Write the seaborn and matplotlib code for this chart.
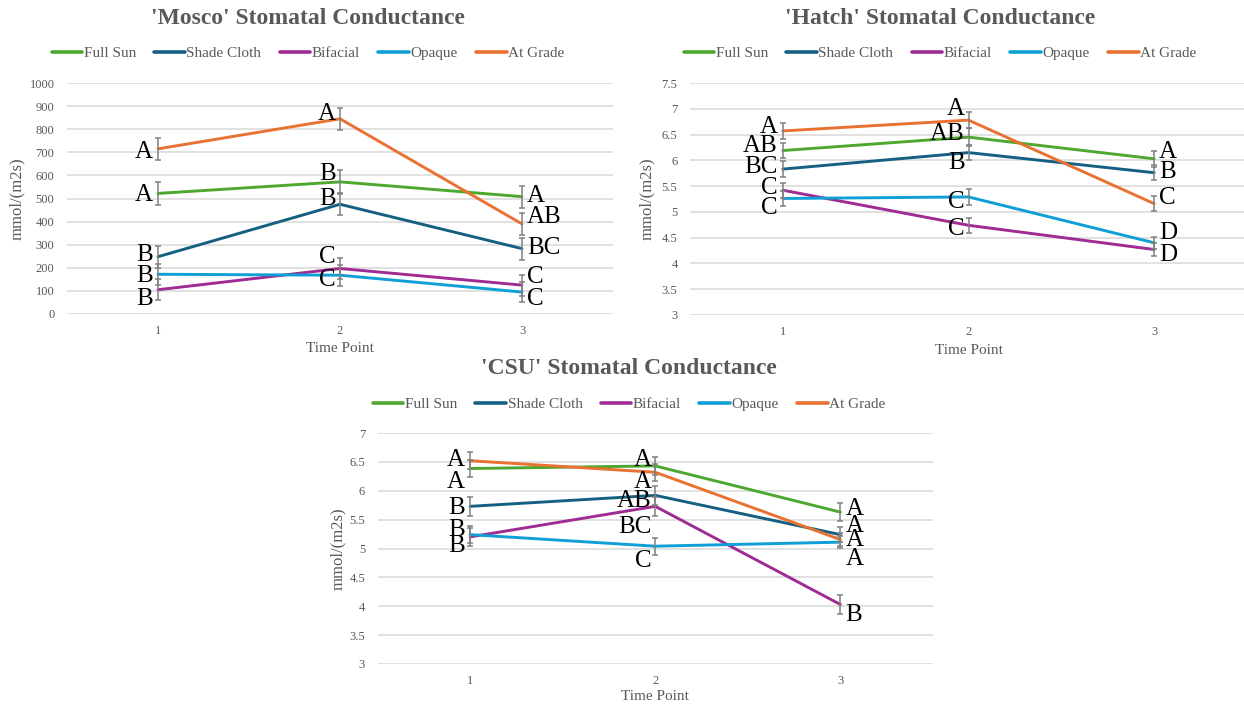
import numpy as np
import pandas as pd
import matplotlib
matplotlib.use("Agg")
import matplotlib.pyplot as plt
from matplotlib.lines import Line2D
import seaborn as sns

# ---------------- data ----------------
time_points = [1, 2, 3]
treatments = ["Full Sun", "Shade Cloth", "Bifacial", "Opaque", "At Grade"]

# 'Mosco'
mosco_full_sun = [522, 572, 508]
mosco_shade_cloth = [248, 475, 283]
mosco_bifacial = [105, 197, 125]
mosco_opaque = [172, 168, 95]
mosco_at_grade = [715, 845, 390]
mosco_err = {"Full Sun": [50, 50, 48], "Shade Cloth": [48, 45, 48],
             "Bifacial": [45, 45, 45], "Opaque": [45, 45, 45], "At Grade": [48, 47, 47]}
mosco_letters = {"Full Sun": ["A", "B", "A"], "Shade Cloth": ["B", "B", "BC"],
                 "Bifacial": ["B", "C", "C"], "Opaque": ["B", "C", "C"],
                 "At Grade": ["A", "A", "AB"]}

# 'Hatch'
hatch_full_sun = [6.19, 6.45, 6.03]
hatch_shade_cloth = [5.83, 6.15, 5.76]
hatch_bifacial = [5.42, 4.74, 4.27]
hatch_opaque = [5.26, 5.29, 4.40]
hatch_at_grade = [6.57, 6.78, 5.16]
hatch_err = {"Full Sun": [0.15, 0.17, 0.15], "Shade Cloth": [0.15, 0.15, 0.14],
             "Bifacial": [0.15, 0.15, 0.12], "Opaque": [0.15, 0.16, 0.12],
             "At Grade": [0.15, 0.15, 0.15]}
hatch_letters = {"Full Sun": ["AB", "AB", "A"], "Shade Cloth": ["BC", "B", "B"],
                 "Bifacial": ["C", "C", "D"], "Opaque": ["C", "C", "D"],
                 "At Grade": ["A", "A", "C"]}

# 'CSU'
csu_full_sun = [6.385, 6.43, 5.63]
csu_shade_cloth = [5.73, 5.92, 5.24]
csu_bifacial = [5.20, 5.73, 4.03]
csu_opaque = [5.24, 5.04, 5.11]
csu_at_grade = [6.52, 6.32, 5.155]
csu_err = {"Full Sun": [0.15, 0.16, 0.16], "Shade Cloth": [0.17, 0.17, 0.13],
           "Bifacial": [0.15, 0.16, 0.16], "Opaque": [0.15, 0.15, 0.1],
           "At Grade": [0.15, 0.15, 0.12]}
csu_letters = {"Full Sun": ["A", "A", "A"], "Shade Cloth": ["B", "AB", "A"],
               "Bifacial": ["B", "BC", "B"], "Opaque": ["B", "C", "A"],
               "At Grade": ["A", "A", "A"]}

# ---------------- style ----------------
palette = {"Full Sun": "#4EA72E", "Shade Cloth": "#156082", "Bifacial": "#A02B93",
           "Opaque": "#0F9ED5", "At Grade": "#E97132"}
draw_order = ["Full Sun", "Shade Cloth", "Bifacial", "Opaque", "At Grade"]

# letter vertical offsets (pixels, + = down) relative to each point
mosco_dy = {"Full Sun": [0, -10, -2], "Shade Cloth": [-4, -7, -2], "Bifacial": [7, -13, -10],
            "Opaque": [0, 3, 5], "At Grade": [1, -7, -9]}
hatch_dy = {"Full Sun": [-6, -5, -9], "Shade Cloth": [-4, 9, -3], "Bifacial": [-4, 2, 4],
            "Opaque": [8, 3, -12], "At Grade": [-6, -13, -7]}
csu_dy = {"Full Sun": [12, -8, -5], "Shade Cloth": [0, 4, -10], "Bifacial": [-9, 19, 9],
          "Opaque": [10, 13, 15], "At Grade": [-3, 8, -1]}

W, H = 1244, 707
DPI = 100
PX = 72.0 / DPI  # points per pixel

sns.set_theme(style="white")
plt.rcParams["font.family"] = ["Liberation Serif", "DejaVu Serif"]
grey = "#595959"

fig = plt.figure(figsize=(W / DPI, H / DPI), dpi=DPI)
fig.patch.set_facecolor("white")


def rect(l, r, t, b):
    return [l / W, 1 - b / H, (r - l) / W, (b - t) / H]


panels = [
    dict(title="'Mosco' Stomatal Conductance",
         values=[mosco_full_sun, mosco_shade_cloth, mosco_bifacial, mosco_opaque, mosco_at_grade],
         err=mosco_err, letters=mosco_letters, dy=mosco_dy,
         ylim=(0, 1000), yticks=np.arange(0, 1001, 100),
         ylabels=[str(v) for v in range(0, 1001, 100)],
         box=(67, 613, 83, 314), center_x=308, title_y=19, legend_y=53,
         ylabel_x=17, xlabel_y=348),
    dict(title="'Hatch' Stomatal Conductance",
         values=[hatch_full_sun, hatch_shade_cloth, hatch_bifacial, hatch_opaque, hatch_at_grade],
         err=hatch_err, letters=hatch_letters, dy=hatch_dy,
         ylim=(3, 7.5), yticks=np.arange(3, 7.51, 0.5),
         ylabels=["3", "3.5", "4", "4.5", "5", "5.5", "6", "6.5", "7", "7.5"],
         box=(690, 1247, 83, 315), center_x=940, title_y=19, legend_y=53,
         ylabel_x=647, xlabel_y=350),
    dict(title="'CSU' Stomatal Conductance",
         values=[csu_full_sun, csu_shade_cloth, csu_bifacial, csu_opaque, csu_at_grade],
         err=csu_err, letters=csu_letters, dy=csu_dy,
         ylim=(3, 7), yticks=np.arange(3, 7.01, 0.5),
         ylabels=["3", "3.5", "4", "4.5", "5", "5.5", "6", "6.5", "7"],
         box=(377.5, 933, 433, 664), center_x=629, title_y=369, legend_y=404,
         ylabel_x=338, xlabel_y=697),
]

dx_px = [-5, -4, 5]
ha_tp = ["right", "right", "left"]
cap_half_px = 7.8  # half cap-height of the letter font in px

for p in panels:
    l, r, t, b = p["box"]
    ax = fig.add_axes(rect(l, r, t, b))
    ax.set_facecolor("white")
    rows = []
    for name, vals in zip(treatments, p["values"]):
        for tp, v in zip(time_points, vals):
            rows.append({"Time Point": tp, "value": v, "treatment": name})
    df = pd.DataFrame(rows)
    sns.lineplot(data=df, x="Time Point", y="value", hue="treatment",
                 hue_order=draw_order, palette=palette, linewidth=2.1,
                 estimator=None, legend=False, ax=ax, zorder=3)
    for name, vals in zip(treatments, p["values"]):
        ax.errorbar(time_points, vals, yerr=p["err"][name], fmt="none",
                    ecolor="#808080", elinewidth=1.1, capsize=2.4, capthick=1.1, zorder=4)
        for i, (tp, v) in enumerate(zip(time_points, vals)):
            dy = p["dy"][name][i]
            ax.annotate(p["letters"][name][i], xy=(tp, v),
                        xytext=(dx_px[i] * PX, -(dy + cap_half_px) * PX),
                        textcoords="offset points", ha=ha_tp[i], va="baseline",
                        fontsize=18, color="black", zorder=5, annotation_clip=False)
    ax.set_xlim(0.5, 3.5)
    ax.set_ylim(*p["ylim"])
    ax.set_xticks(time_points)
    ax.set_xticklabels([str(t) for t in time_points])
    ax.set_yticks(p["yticks"])
    ax.set_yticklabels(p["ylabels"])
    ax.tick_params(axis="both", length=0, labelsize=9, labelcolor=grey)
    ax.tick_params(axis="y", pad=9)
    ax.tick_params(axis="x", pad=8)
    ax.grid(axis="y", color="#d9d9d9", linewidth=1.1)
    ax.grid(axis="x", visible=False)
    for s in ax.spines.values():
        s.set_visible(False)
    ax.set_xlabel("")
    ax.set_ylabel("")
    # axis titles
    fig.text(p["ylabel_x"] / W, 1 - ((t + b) / 2) / H, "mmol/(m2s)", rotation=90,
             ha="center", va="center", fontsize=12, color=grey)
    fig.text(((l + r) / 2) / W, 1 - p["xlabel_y"] / H,
             "Time Point", ha="center", va="center", fontsize=11, color=grey)
    # chart title
    fig.text(p["center_x"] / W, 1 - p["title_y"] / H, p["title"], ha="center", va="center",
             fontsize=17, fontweight="bold", color=grey)
    handles = [Line2D([0], [0], color=palette[n], linewidth=2.6) for n in treatments]
    fig.legend(handles, treatments, loc="center", ncol=5,
               bbox_to_anchor=(p["center_x"] / W, 1 - p["legend_y"] / H),
               frameon=False, fontsize=11, labelcolor=grey, handlelength=2.0,
               handletextpad=0.1, columnspacing=1.2)

fig.savefig("out.png", dpi=DPI, facecolor="white")
